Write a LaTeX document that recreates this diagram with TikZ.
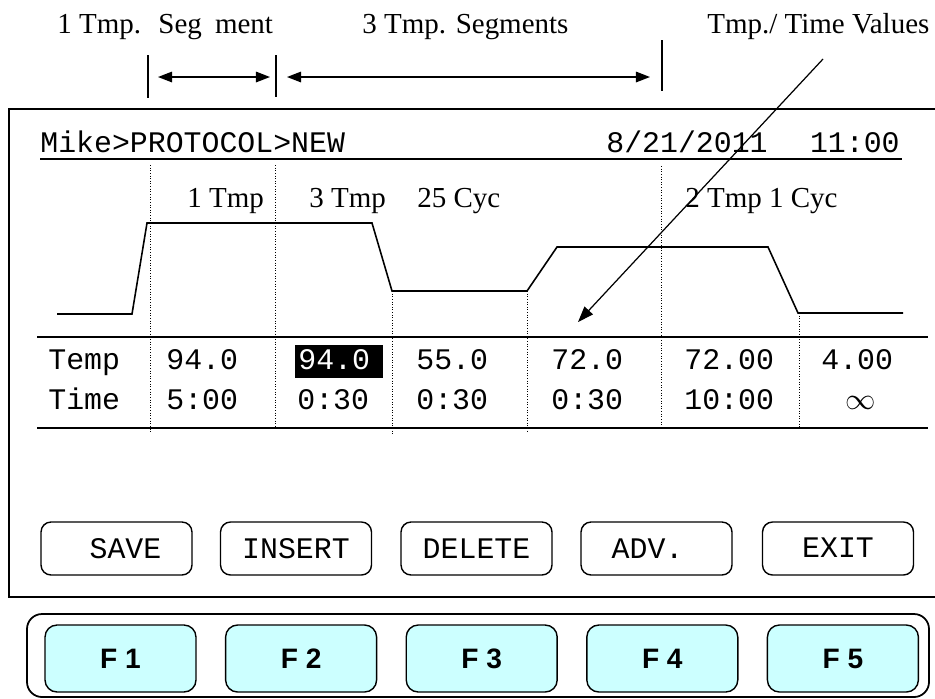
\documentclass[tikz,border=0pt]{standalone}
\usepackage{fontspec}
\setmainfont{Liberation Serif}
\setmonofont{Liberation Mono}
\setsansfont{Liberation Sans}
\usetikzlibrary{positioning,arrows.meta}
\definecolor{keycyan}{HTML}{CCFFFF}

\begin{document}
\begin{tikzpicture}[
	x=0.02cm, y=-0.02cm,
	note/.style={font=\fontsize{16.5}{18}\selectfont, anchor=base west, inner sep=0pt},
	mono/.style={font=\ttfamily\fontsize{17}{20}\selectfont, anchor=base west, inner sep=0pt},
	button/.style={draw, line width=0.8pt, rounded corners=0.2cm, minimum width=3.02cm, minimum height=1.06cm, inner sep=0pt, font=\ttfamily\fontsize{17}{20}\selectfont},
	fkey/.style={draw, line width=0.8pt, fill=keycyan, rounded corners=0.24cm, minimum width=3.02cm, minimum height=1.34cm, inner sep=0pt, font=\sffamily\bfseries\fontsize{16}{18}\selectfont},
	segline/.style={densely dotted, line width=0.5pt},
	rule/.style={line width=1.1pt}
	]
	\useasboundingbox (0,0) rectangle (935,698);
	
	% annotations above the screen
	\node[note] (lblone) at (57,33) {1 Tmp.\hspace{0.6em}Seg\hspace{0.45em}ment};
	\node[note] (lblthree) at (362,33) {3 Tmp. Segments};
	\node[note] (lblvalues) at (707,33) {Tmp./ Time Values};
	\draw[line width=0.6pt] (148,55) -- (148,98);
	\draw[line width=0.6pt] (276,55) -- (276,97);
	\draw[line width=0.6pt] (662,40) -- (662,91);
	\coordinate (onel) at (158,77);
	\coordinate (oner) at (270,77);
	\coordinate (threel) at (287,77);
	\coordinate (threer) at (650,77);
	\draw[{Triangle[length=8pt,width=6pt]}-{Triangle[length=8pt,width=6pt]}, line width=0.8pt] (onel) -- (oner);
	\draw[{Triangle[length=8pt,width=6pt]}-{Triangle[length=8pt,width=6pt]}, line width=0.8pt] (threel) -- (threer);
	
	% screen
	\draw[rule] (940,109) -- (9,109) -- (9,597) -- (940,597);
	\node[mono] (user) at (40,152) {Mike>PROTOCOL>NEW};
	\node[mono] (date) at (606,152) {8/21/2011};
	\node[mono, anchor=base east] (clock) at (900,152) {11:00};
	\draw[rule] (40,159) -- (902,159);
	
	\foreach \x/\a/\b in {150/165/432, 275/165/428, 392/291/435, 527/291/432, 661/166/428, 799/313/428}
		\draw[segline] (\x,\a) -- (\x,\b);
	
	\node[note] (segA) at (187,207) {1 Tmp};
	\node[note] (segB) at (309,207) {3 Tmp};
	\node[note] (cycB) at (417,207) {25 Cyc};
	\node[note] (segC) at (685,207) {2 Tmp 1 Cyc};
	
	\draw[line width=0.9pt] (57,314) -- (132,314) -- (147,223) -- (372,223) -- (392,291) -- (527,291)
		-- (557,247) -- (768,247) -- (798,313) -- (903,313);
	
	% table
	\draw[rule] (37,337) -- (928,337);
	\draw[rule] (37,428) -- (928,428);
	\fill (295,345) rectangle (383,378);
	\node[mono] (temp) at (48,369) {Temp};
	\node[mono] (time) at (48,409) {Time};
	\foreach \x/\v/\c [count=\i] in {166/94.0/black, 298/94.0/white, 416/55.0/black, 551/72.0/black, 684/72.00/black, 821/4.00/black}
		\node[mono, text=\c] (tmp\i) at (\x,369) {\v};
	\foreach \x/\v [count=\i] in {166/5:00, 297/0:30, 416/0:30, 551/0:30, 684/10:00}
		\node[mono] (dur\i) at (\x,409) {\v};
	\node[mono, anchor=base] (dur6) at (861,409) {$\infty$};
	
	\coordinate (valtop) at (823,59);
	\coordinate (valtip) at (578,322);
	\draw[-{Triangle[length=9pt,width=6.5pt]}, line width=0.7pt] (valtop) -- (valtip);
	
	% soft buttons
	\foreach \x/\t/\dy [count=\i] in {116.5/\ SAVE/0pt, 296/INSERT/0pt, 476.5/DELETE/0pt, 656.5/ADV.\ /-3.5pt, 838/EXIT/1.5pt}
		\node[button] (btn\i) at (\x,548.5) {\raisebox{\dy}{\t}};
	
	% function keys
	\draw[line width=1pt, rounded corners=0.3cm] (27,614) rectangle (929,697);
	\foreach \i in {1,...,5}
		\node[fkey] (f\i) at ({120.5+(\i-1)*180.6},658.5) {\raisebox{-2pt}{F \i}};
\end{tikzpicture}
\end{document}
